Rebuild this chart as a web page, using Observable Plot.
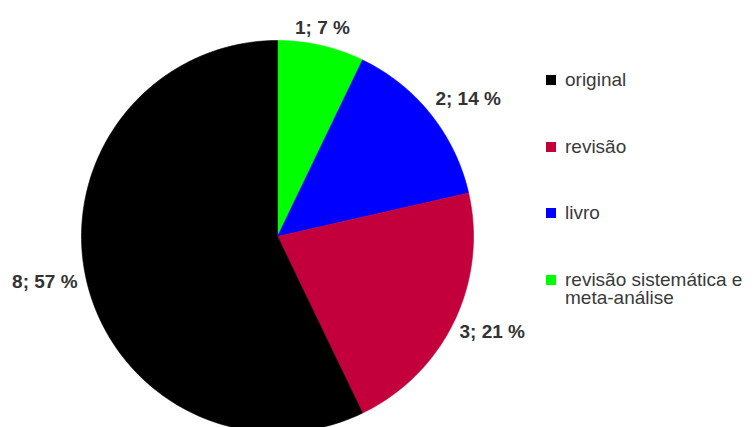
<!DOCTYPE html>
<html>
<head>
<meta charset="utf-8">
<script src="https://cdn.jsdelivr.net/npm/d3@7"></script>
<script src="https://cdn.jsdelivr.net/npm/@observablehq/plot@0.6"></script>
<style>
  html, body { margin: 0; padding: 0; background: #fff; }
  #wrap { position: relative; width: 754px; height: 427px; overflow: hidden; font-family: "Liberation Sans", Arial, sans-serif; }
  #legend { position: absolute; left: 546px; top: 0; width: 208px; }
  .item { position: absolute; left: 0; width: 208px; }
  .sw { position: absolute; left: 0; top: 4px; width: 10px; height: 10px; }
  .lbl { position: absolute; left: 19px; top: 0; width: 189px; font-size: 19px; line-height: 18px; color: #3a3a3a; }
</style>
</head>
<body>
<div id="wrap"><div id="chart"></div><div id="legend"></div></div>
<script>
// ---- data ----
const categories = ["original", "revisão", "livro", "revisão sistemática e meta-análise"];
const counts = [8, 3, 2, 1];
const colors = ["#000000", "#C3003C", "#0000FF", "#00FF00"];

// ---- layout ----
const W = 754, H = 427;
const cx = 277, cy = 236, R = 196;
const GAP = 6;
const S = Math.sin(Math.PI / 8);

const total = d3.sum(counts);
const poly = [];
const labels = [];
let a0 = 0;
for (let i = categories.length - 1; i >= 0; i--) {
  const cat = categories[i];
  const a1 = a0 + counts[i] / total * 2 * Math.PI;
  const n = Math.max(2, Math.ceil((a1 - a0) / (Math.PI / 180)));
  poly.push({cat, x: 0, y: 0});
  for (let k = 0; k <= n; k++) {
    const a = a0 + (a1 - a0) * k / n;
    poly.push({cat, x: Math.sin(a), y: Math.cos(a)});
  }
  poly.push({cat, x: 0, y: 0});
  const mid = (a0 + a1) / 2;
  const text = `${counts[i]}; ${Math.round(counts[i] / total * 100)} %`;
  const d = (R + GAP) / R;
  const sx = Math.sin(mid), sy = Math.cos(mid);
  labels.push({
    text, x: d * sx, y: d * sy,
    textAnchor: sx > S ? "start" : sx < -S ? "end" : "middle",
    lineAnchor: sy > S ? "bottom" : sy < -S ? "top" : "middle"
  });
  a0 = a1;
}

const chart = Plot.plot({
  width: W, height: H,
  margin: 0,
  style: {fontFamily: "'Liberation Sans', Arial, sans-serif", background: "white"},
  x: {type: "linear", domain: [-cx / R, (W - cx) / R], range: [0, W], axis: null},
  y: {type: "linear", domain: [(cy - H) / R, cy / R], range: [H, 0], axis: null},
  color: {domain: categories, range: colors},
  marks: [
    Plot.line(poly, {x: "x", y: "y", z: "cat", fill: "cat", stroke: "cat", strokeWidth: 0.6, curve: "linear"}),
    ...labels.map(l => Plot.text([l], {
      x: "x", y: "y", text: "text",
      textAnchor: l.textAnchor, lineAnchor: l.lineAnchor,
      dy: l.lineAnchor === "bottom" ? -6 : 0,
      dx: l.textAnchor === "end" ? -3 : 0,
      fontSize: 19, fontWeight: "bold", fill: "#333"
    }))
  ]
});
document.getElementById("chart").appendChild(chart);

const legend = document.getElementById("legend");
categories.forEach((c, i) => {
  const item = document.createElement("div");
  item.className = "item";
  item.style.top = (71 + i * 66.7) + "px";
  const sw = document.createElement("div");
  sw.className = "sw";
  sw.style.background = colors[i];
  const lb = document.createElement("div");
  lb.className = "lbl";
  lb.textContent = c;
  item.appendChild(sw);
  item.appendChild(lb);
  legend.appendChild(item);
});
</script>
</body>
</html>
